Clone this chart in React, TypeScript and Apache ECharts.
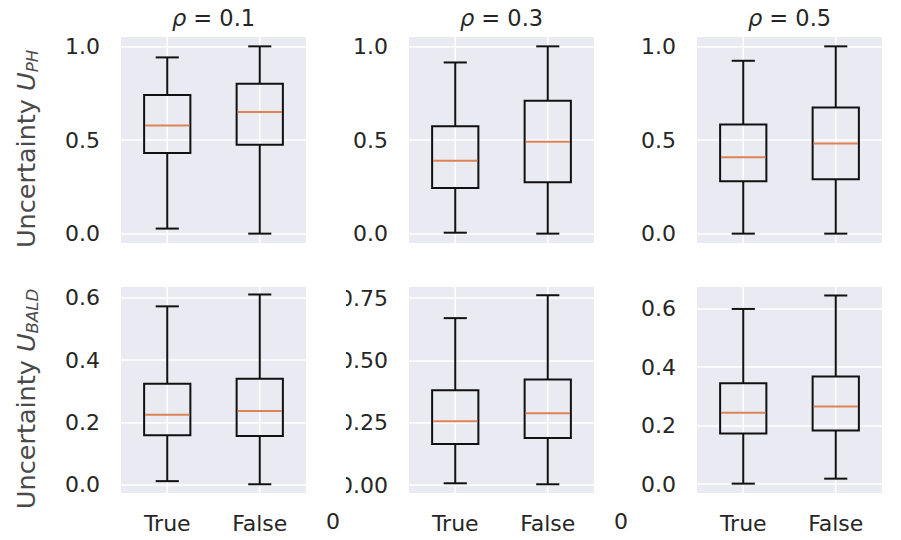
import React, { useEffect, useRef } from "react";
import * as echarts from "echarts";

// ---------- data ----------
const categories = ["True", "False"];
const rhoTitles = ["0.1", "0.3", "0.5"];

// each box: [min(whisker), Q1, median, Q3, max(whisker)]
const phRho01True = [0.027, 0.43, 0.578, 0.74, 0.941];
const phRho01False = [0.0, 0.474, 0.65, 0.8, 1.0];
const phRho03True = [0.005, 0.244, 0.389, 0.574, 0.914];
const phRho03False = [0.0, 0.274, 0.49, 0.71, 1.0];
const phRho05True = [0.0, 0.28, 0.408, 0.583, 0.923];
const phRho05False = [0.0, 0.29, 0.481, 0.674, 1.0];

const baldRho01True = [0.012, 0.159, 0.225, 0.324, 0.572];
const baldRho01False = [0.002, 0.157, 0.237, 0.34, 0.61];
const baldRho03True = [0.007, 0.165, 0.256, 0.38, 0.67];
const baldRho03False = [0.003, 0.189, 0.288, 0.424, 0.762];
const baldRho05True = [0.002, 0.173, 0.244, 0.345, 0.599];
const baldRho05False = [0.019, 0.184, 0.266, 0.368, 0.645];

const phTicks = [0, 0.5, 1.0];
const bald01Ticks = [0, 0.2, 0.4, 0.6];
const bald03Ticks = [0, 0.25, 0.5, 0.75];
const bald05Ticks = [0, 0.2, 0.4, 0.6];

const phLimits = [-0.05, 1.05];
const bald01Limits = [-0.026, 0.634];
const bald03Limits = [-0.032, 0.795];
const bald05Limits = [-0.03, 0.674];

// ---------- styling ----------
const FONT = "DejaVu Sans";
const TICK_COLOR = "#262626";
const LABEL_COLOR = "#4a4a4a";
const BG = "#EAEAF2";
const MEDIAN = "#DD8452";

const panels = [
  { boxes: [phRho01True, phRho01False], ticks: phTicks, lim: phLimits, dec: 1, row: 0, col: 0 },
  { boxes: [phRho03True, phRho03False], ticks: phTicks, lim: phLimits, dec: 1, row: 0, col: 1 },
  { boxes: [phRho05True, phRho05False], ticks: phTicks, lim: phLimits, dec: 1, row: 0, col: 2 },
  { boxes: [baldRho01True, baldRho01False], ticks: bald01Ticks, lim: bald01Limits, dec: 1, row: 1, col: 0 },
  { boxes: [baldRho03True, baldRho03False], ticks: bald03Ticks, lim: bald03Limits, dec: 2, row: 1, col: 1 },
  { boxes: [baldRho05True, baldRho05False], ticks: bald05Ticks, lim: bald05Limits, dec: 1, row: 1, col: 2 },
];

const GRID_LEFTS = [121, 409, 697];
const GRID_TOPS = [37, 287];
const GRID_W = 185;
const GRID_H = 206;

function renderBox(params: any, api: any) {
  const cs = params.coordSys;
  const k = api.value(0);
  const pMin = api.coord([k, api.value(1)]);
  const pQ1 = api.coord([k, api.value(2)]);
  const pMed = api.coord([k, api.value(3)]);
  const pQ3 = api.coord([k, api.value(4)]);
  const pMax = api.coord([k, api.value(5)]);
  const x = pMin[0];
  const band = cs.width / categories.length;
  const hb = band * 0.25;
  const hc = band * 0.125;
  const ls = { stroke: "#111", lineWidth: 2 };
  return {
    type: "group",
    children: [
      { type: "line", shape: { x1: x, y1: cs.y, x2: x, y2: cs.y + cs.height }, style: { stroke: "#fff", lineWidth: 1.6 } },
      { type: "line", shape: { x1: x, y1: pQ3[1], x2: x, y2: pMax[1] }, style: ls },
      { type: "line", shape: { x1: x, y1: pQ1[1], x2: x, y2: pMin[1] }, style: ls },
      { type: "line", shape: { x1: x - hc, y1: pMax[1], x2: x + hc, y2: pMax[1] }, style: ls },
      { type: "line", shape: { x1: x - hc, y1: pMin[1], x2: x + hc, y2: pMin[1] }, style: ls },
      { type: "rect", shape: { x: x - hb, y: pQ3[1], width: 2 * hb, height: pQ1[1] - pQ3[1] }, style: { fill: "none", stroke: "#111", lineWidth: 2 } },
      { type: "line", shape: { x1: x - hb + 1, y1: pMed[1], x2: x + hb - 1, y2: pMed[1] }, style: { stroke: MEDIAN, lineWidth: 2 } },
    ],
  };
}

function buildOption() {
  const grid: any[] = [];
  const xAxis: any[] = [];
  const yAxis: any[] = [];
  const series: any[] = [];
  panels.forEach((p, i) => {
    grid.push({
      left: GRID_LEFTS[p.col],
      top: GRID_TOPS[p.row],
      width: GRID_W,
      height: GRID_H,
      show: true,
      backgroundColor: BG,
      borderWidth: 0,
      containLabel: false,
      outerBoundsMode: "none",
    });
    xAxis.push({
      type: "category",
      gridIndex: i,
      data: categories,
      axisLine: { show: false },
      axisTick: { show: false },
      splitLine: { show: false },
      axisLabel: {
        show: p.row === 1,
        fontSize: 22,
        fontFamily: FONT,
        color: TICK_COLOR,
        margin: 19,
      },
    });
    yAxis.push({
      type: "value",
      gridIndex: i,
      min: p.lim[0],
      max: p.lim[1],
      axisLine: { show: false },
      axisTick: { show: false, customValues: p.ticks },
      axisLabel: {
        customValues: p.ticks,
        formatter: (v: number) => Number(v).toFixed(p.dec),
        fontSize: 22,
        fontFamily: FONT,
        color: TICK_COLOR,
        margin: 21,
      },
      splitLine: { show: true, lineStyle: { color: "#ffffff", width: 1.6 } },
    });
    series.push({
      type: "custom",
      xAxisIndex: i,
      yAxisIndex: i,
      data: p.boxes.map((b, k) => [k, ...b]),
      encode: { x: 0, y: [1, 2, 3, 4, 5] },
      renderItem: renderBox,
      silent: true,
    });
  });

  const graphic: any[] = [];
  rhoTitles.forEach((r, c) => {
    graphic.push({
      type: "text",
      x: GRID_LEFTS[c] + GRID_W / 2,
      y: 18,
      style: {
        text: `{i|ρ} = ${r}`,
        align: "center",
        verticalAlign: "middle",
        fill: TICK_COLOR,
        rich: {
          i: { fontFamily: FONT, fontSize: 22.5, fontStyle: "italic", fill: TICK_COLOR },
        },
        fontFamily: FONT,
        fontSize: 22.5,
      },
    });
  });
  const ylabels = [
    { sub: "PH", y: 149 },
    { sub: "BALD", y: 399 },
  ];
  ylabels.forEach((l) => {
    graphic.push({
      type: "text",
      x: 25.5,
      y: l.y,
      rotation: Math.PI / 2,
      style: {
        text: `{n|Uncertainty }{u|U}{s|${l.sub}}`,
        align: "center",
        verticalAlign: "middle",
        rich: {
          n: { fontFamily: FONT, fontSize: 25.5, lineHeight: 31, fill: LABEL_COLOR },
          u: { fontFamily: FONT, fontSize: 25.5, lineHeight: 31, fontStyle: "italic", fill: LABEL_COLOR },
          s: { fontFamily: FONT, fontSize: 16.5, lineHeight: 14, verticalAlign: "bottom", fontStyle: "italic", fill: LABEL_COLOR },
        },
      },
    });
  });
  // cropped-figure artefacts
  graphic.push({
    type: "rect",
    z: 100,
    shape: { x: 318, y: 280, width: 28, height: 220 },
    style: { fill: "#ffffff" },
  });
  [333, 621].forEach((x) => {
    graphic.push({
      type: "text",
      z: 101,
      x,
      y: 521,
      style: { text: "0", align: "center", verticalAlign: "middle", fontFamily: FONT, fontSize: 22, fill: TICK_COLOR },
    });
  });

  return {
    animation: false,
    backgroundColor: "#ffffff",
    grid,
    xAxis,
    yAxis,
    series,
    graphic,
  };
}

export default function App() {
  const ref = useRef<HTMLDivElement>(null);
  useEffect(() => {
    if (!ref.current) return;
    const chart = echarts.init(ref.current, null, { renderer: "svg" });
    chart.setOption(buildOption() as any);
    return () => chart.dispose();
  }, []);
  return (
    <div
      ref={ref}
      style={{ position: "absolute", left: 0, top: 0, width: 901, height: 540, background: "#fff" }}
    />
  );
}
